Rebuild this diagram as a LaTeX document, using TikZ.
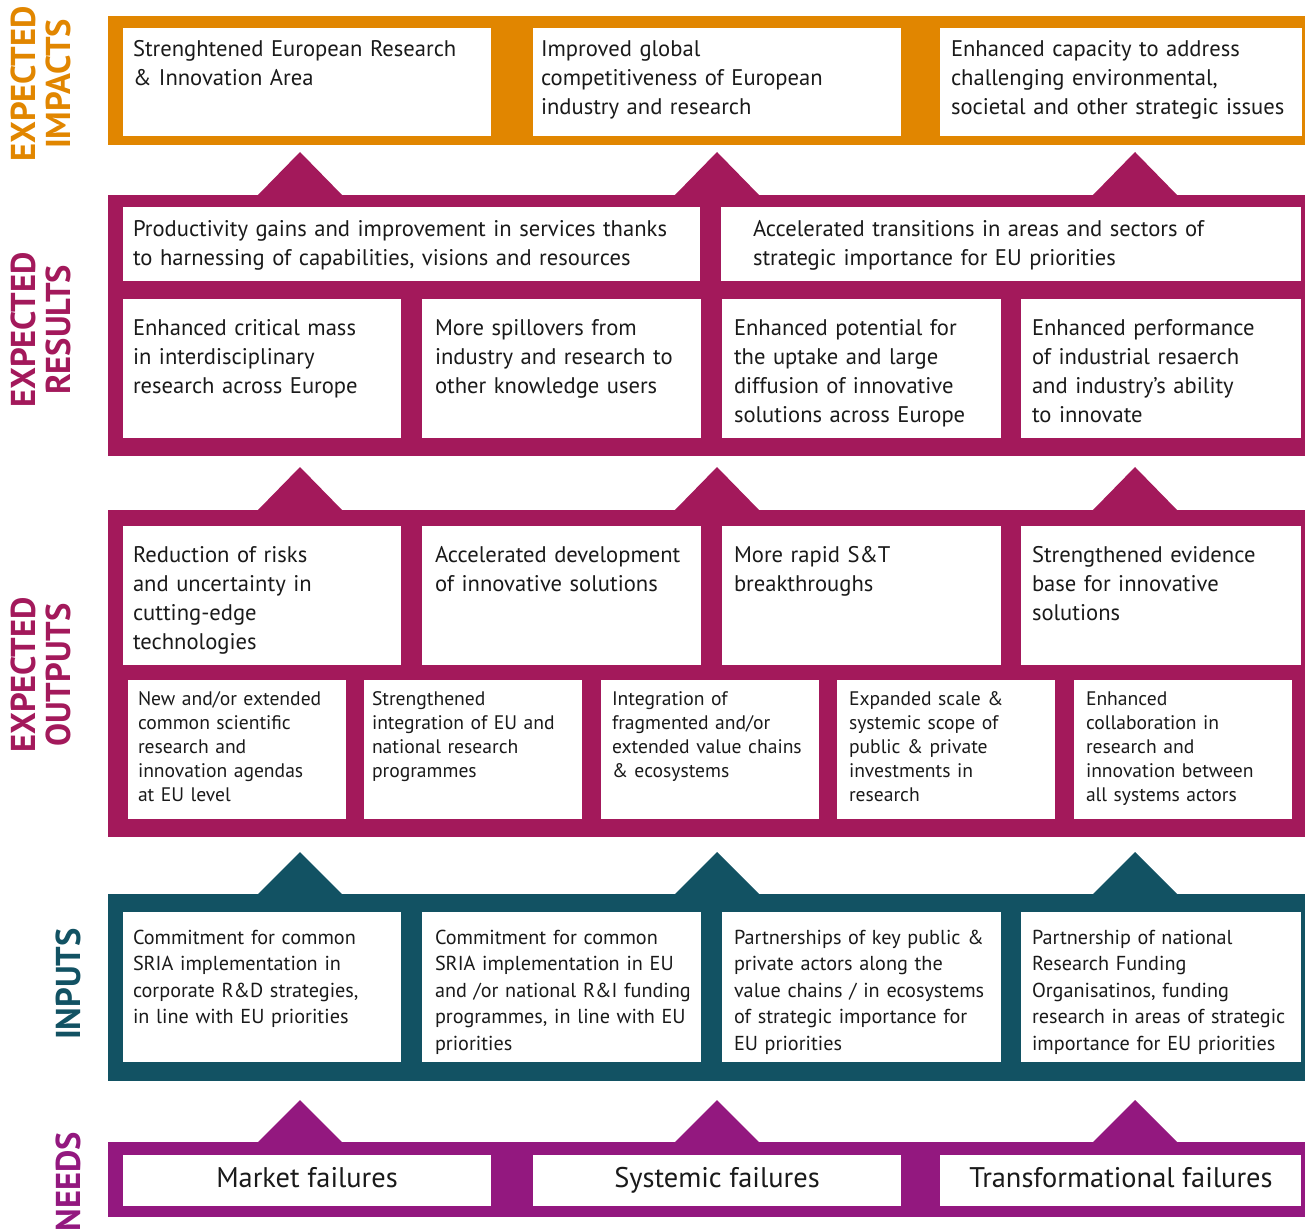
\documentclass[tikz,border=0pt]{standalone}
\usepackage{fontspec}
\setmainfont{PT Sans}
\definecolor{cOrange}{HTML}{E18600}
\definecolor{cCrimson}{HTML}{A3195B}
\definecolor{cTeal}{HTML}{125263}
\definecolor{cPurple}{HTML}{93187F}
\definecolor{cText}{HTML}{1A1A1A}
\newcommand\myFbig{\fontsize{22.6}{29}\selectfont}
\newcommand\myFmid{\fontsize{20.2}{26.5}\selectfont}
\newcommand\myFsmall{\fontsize{19.6}{24}\selectfont}
\newcommand\myFneed{\fontsize{28.4}{30}\selectfont}
\newcommand\myFlab{\fontsize{34.5}{35}\selectfont\bfseries}
\newcommand{\wbox}[5]{%
  \node[wbox, minimum width={(#4-#2)*1pt}, minimum height={(#5-#3)*1pt}] (#1) at (#2,#3) {};}
\newcommand{\tri}[4]{% x apex, y apex, y base, colour
  \fill[#4] (#1,#2) -- (#1-43,#3+1) -- (#1+43,#3+1) -- cycle;}
\tikzset{
  wbox/.style={fill=white, draw=none, inner sep=0pt, outer sep=0pt, anchor=north west},
  txt/.style={anchor=base west, inner sep=0pt, outer sep=0pt, text width=560pt, align=left, text=cText},
  ctxt/.style={anchor=base, inner sep=0pt, outer sep=0pt, text=cText, font=\myFneed},
  lab/.style={rotate=90, anchor=base, inner sep=0pt, font=\myFlab},
}
\begin{document}
\begin{tikzpicture}[x=1pt, y=-1pt]
\useasboundingbox (0,0) rectangle (1305,1230);
% bands
\fill[cOrange] (108,16) rectangle (1306,145);
\fill[cCrimson] (108,195) rectangle (1306,456);
\fill[cCrimson] (108,510) rectangle (1306,837);
\fill[cTeal] (108,894) rectangle (1306,1081);
\fill[cPurple] (108,1142) rectangle (1306,1217);
% triangles
\foreach \x in {300,717,1135} {
  \tri{\x}{152}{195}{cCrimson}
  \tri{\x}{467}{510}{cCrimson}
  \tri{\x}{852}{894}{cTeal}
  \tri{\x}{1100}{1142}{cPurple}
}
% left labels
\node[lab, text=cOrange] (lImpA) at (35,84) {EXPECTED};
\node[lab, text=cOrange] (lImpB) at (70,84) {IMPACTS};
\node[lab, text=cCrimson] (lResA) at (35,330) {EXPECTED};
\node[lab, text=cCrimson] (lResB) at (70,330) {RESULTS};
\node[lab, text=cCrimson] (lOutA) at (35,675) {EXPECTED};
\node[lab, text=cCrimson] (lOutB) at (70,675) {OUTPUTS};
\node[lab, text=cTeal] (lIn) at (80,984) {INPUTS};
\node[lab, text=cPurple] (lNeed) at (80,1182) {NEEDS};
% impacts
\wbox{i1}{123}{28}{491}{136}
\wbox{i2}{533}{28}{901}{136}
\wbox{i3}{940}{28}{1302}{136}
\node[txt, font=\myFbig] (ti1) at (133,57) {Strenghtened European Research\\\& Innovation Area};
\node[txt, font=\myFbig] (ti2) at (541,57) {Improved global\\competitiveness of European\\industry and research};
\node[txt, font=\myFbig] (ti3) at (951,57) {Enhanced capacity to address\\challenging environmental,\\societal and other strategic issues};
% results row 1
\wbox{r1}{123}{207}{700}{281}
\wbox{r2}{721}{207}{1301}{281}
\node[txt, font=\myFbig] (tr1) at (133,237) {Productivity gains and improvement in services thanks\\to harnessing of capabilities, visions and resources};
\node[txt, font=\myFbig] (tr2) at (753,237) {Accelerated transitions in areas and sectors of\\strategic importance for EU priorities};
% results row 2
\wbox{r3}{123}{299}{401}{438}
\wbox{r4}{422}{299}{701}{438}
\wbox{r5}{722}{299}{1001}{438}
\wbox{r6}{1021}{299}{1301}{438}
\node[txt, font=\myFbig] (tr3) at (133,335) {Enhanced critical mass\\in interdisciplinary\\research across Europe};
\node[txt, font=\myFbig] (tr4) at (435,335) {More spillovers from\\industry and research to\\other knowledge users};
\node[txt, font=\myFbig] (tr5) at (734,335) {Enhanced potential for\\the uptake and large\\diffusion of innovative\\solutions across Europe};
\node[txt, font=\myFbig] (tr6) at (1032,335) {Enhanced performance\\of industrial resaerch\\and industry’s ability\\to innovate};
% outputs row 1
\wbox{o1}{123}{526}{401}{665}
\wbox{o2}{422}{526}{701}{665}
\wbox{o3}{722}{526}{1001}{665}
\wbox{o4}{1021}{526}{1301}{665}
\node[txt, font=\myFbig] (to1) at (133,562) {Reduction of risks\\and uncertainty in\\cutting-edge\\technologies};
\node[txt, font=\myFbig] (to2) at (435,562) {Accelerated development\\of innovative solutions};
\node[txt, font=\myFbig] (to3) at (734,562) {More rapid S\&T\\breakthroughs};
\node[txt, font=\myFbig] (to4) at (1032,562) {Strengthened evidence\\base for innovative\\solutions};
% outputs row 2
\wbox{o5}{128}{680}{346}{819}
\wbox{o6}{364}{680}{582}{819}
\wbox{o7}{601}{680}{819}{819}
\wbox{o8}{837}{680}{1055}{819}
\wbox{o9}{1074}{680}{1292}{819}
\node[txt, font=\myFsmall] (to5) at (138,705) {New and/or extended\\common scientific\\research and\\innovation agendas\\at EU level};
\node[txt, font=\myFsmall] (to6) at (372,705) {Strengthened\\integration of EU and\\national research\\programmes};
\node[txt, font=\myFsmall] (to7) at (612,705) {Integration of\\fragmented and/or\\extended value chains\\\& ecosystems};
\node[txt, font=\myFsmall] (to8) at (849,705) {Expanded scale \&\\systemic scope of\\public \& private\\investments in\\research};
\node[txt, font=\myFsmall] (to9) at (1086,705) {Enhanced\\collaboration in\\research and\\innovation between\\all systems actors};
% inputs
\wbox{n1}{123}{912}{401}{1062}
\wbox{n2}{422}{912}{701}{1062}
\wbox{n3}{722}{912}{1001}{1062}
\wbox{n4}{1021}{912}{1301}{1062}
\node[txt, font=\myFmid] (tn1) at (133,944) {Commitment for common\\SRIA implementation in\\corporate R\&D strategies,\\in line with EU priorities};
\node[txt, font=\myFmid] (tn2) at (435,944) {Commitment for common\\SRIA implementation in EU\\and /or national R\&I funding\\programmes, in line with EU\\priorities};
\node[txt, font=\myFmid] (tn3) at (734,944) {Partnerships of key public \&\\private actors along the\\value chains / in ecosystems\\of strategic importance for\\EU priorities};
\node[txt, font=\myFmid] (tn4) at (1032,944) {Partnership of national\\Research Funding\\Organisatinos, funding\\research in areas of strategic\\importance for EU priorities};
% needs
\wbox{d1}{123}{1155}{491}{1206}
\wbox{d2}{533}{1155}{901}{1206}
\wbox{d3}{940}{1155}{1301}{1206}
\node[ctxt] (td1) at (307,1187) {Market failures};
\node[ctxt] (td2) at (717,1187) {Systemic failures};
\node[ctxt] (td3) at (1121,1187) {Transformational failures};
\end{tikzpicture}
\end{document}
